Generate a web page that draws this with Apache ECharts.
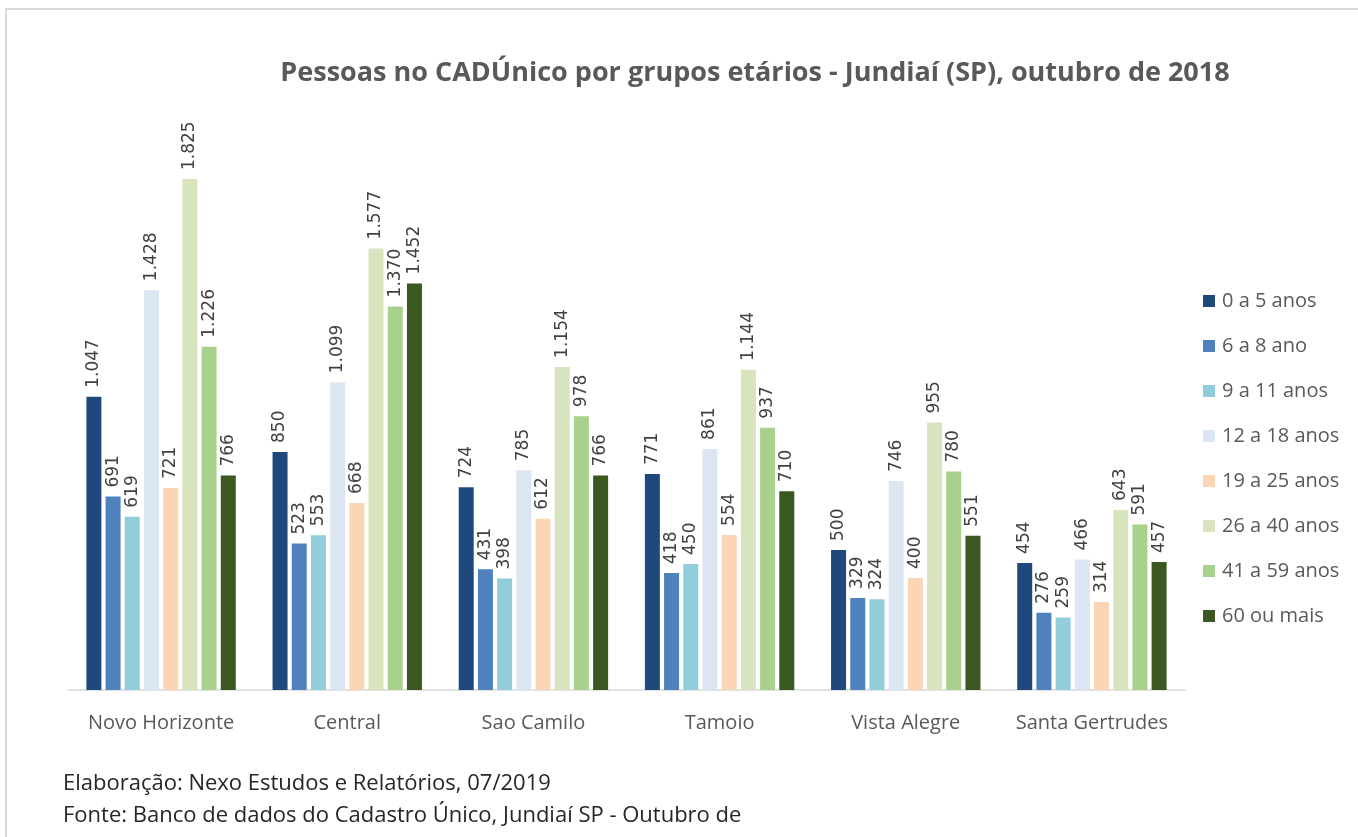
<!DOCTYPE html>
<html>
<head>
<meta charset="utf-8">
<script src="https://cdn.jsdelivr.net/npm/echarts@6/dist/echarts.min.js"></script>
<style>
  html, body { margin: 0; padding: 0; background: #fff; }
  #chart { width: 1358px; height: 837px; }
</style>
</head>
<body>
<div id="chart"></div>
<script>
const bairros = ['Novo Horizonte', 'Central', 'Sao Camilo', 'Tamoio', 'Vista Alegre', 'Santa Gertrudes']
const grupos = ['0 a 5 anos', '6 a 8 ano', '9 a 11 anos', '12 a 18 anos', '19 a 25 anos', '26 a 40 anos', '41 a 59 anos', '60 ou mais']
const cores = ['#1F497D', '#4F81BD', '#92CDDC', '#DCE6F2', '#FCD5B5', '#D7E4BD', '#A9D18E', '#3B5820']

const idade0a5 = [1047, 850, 724, 771, 500, 454]
const idade6a8 = [691, 523, 431, 418, 329, 276]
const idade9a11 = [619, 553, 398, 450, 324, 259]
const idade12a18 = [1428, 1099, 785, 861, 746, 466]
const idade19a25 = [721, 668, 612, 554, 400, 314]
const idade26a40 = [1825, 1577, 1154, 1144, 955, 643]
const idade41a59 = [1226, 1370, 978, 937, 780, 591]
const idade60mais = [766, 1452, 766, 710, 551, 457]
const valores = [idade0a5, idade6a8, idade9a11, idade12a18, idade19a25, idade26a40, idade41a59, idade60mais]

const fonte = '"Open Sans", Lato, sans-serif'
const fonteNum = '"DejaVu Sans", sans-serif'
const milhar = v => String(v).replace(/\B(?=(\d{3})+(?!\d))/g, '.')

const chart = echarts.init(document.getElementById('chart'))
chart.setOption({
    animation: false,
    backgroundColor: '#fff',
    title: {
        text: 'Pessoas no CADÚnico por grupos etários - Jundiaí (SP), outubro de 2018',
        left: 750,
        top: 55,
        textAlign: 'center',
        textStyle: { fontFamily: fonte, fontWeight: 'bold', fontSize: 27, color: '#595959' }
    },
    legend: {
        orient: 'vertical',
        left: 1198,
        top: 286,
        itemWidth: 12,
        itemHeight: 12,
        itemGap: 25,
        icon: 'rect',
        data: grupos,
        textStyle: { fontFamily: fonte, fontSize: 20, color: '#595959', padding: [0, 0, 0, 2] }
    },
    grid: { left: 68, right: 173, top: 130, bottom: 147 },
    xAxis: {
        type: 'category',
        data: bairros,
        axisLine: { lineStyle: { color: '#d9d9d9', width: 1.5 } },
        axisTick: { show: false },
        axisLabel: { interval: 0, fontFamily: fonte, fontSize: 20, color: '#595959', margin: 23 }
    },
    yAxis: {
        type: 'value',
        min: 0,
        max: 2000,
        show: false
    },
    series: grupos.map((g, i) => ({
        name: g,
        type: 'bar',
        data: valores[i],
        barWidth: 15,
        barGap: '28%',
        itemStyle: { color: cores[i] },
        label: {
            show: true,
            position: 'top',
            rotate: 90,
            align: 'left',
            verticalAlign: 'middle',
            distance: 9,
            fontFamily: fonteNum,
            fontSize: 17,
            color: '#404040',
            formatter: p => milhar(p.value)
        }
    })),
    graphic: [
        {
            type: 'rect',
            shape: { x: 6, y: 9, width: 1400, height: 900 },
            style: { fill: 'none', stroke: '#d9d9d9', lineWidth: 2 },
            silent: true
        },
        {
            type: 'text',
            left: 63,
            top: 773,
            style: { text: 'Elaboração: Nexo Estudos e Relatórios, 07/2019', font: '22px ' + fonte, fill: '#262626' }
        },
        {
            type: 'text',
            left: 63,
            top: 805,
            style: { text: 'Fonte: Banco de dados do Cadastro Único, Jundiaí SP - Outubro de', font: '22px ' + fonte, fill: '#262626' }
        }
    ]
})
</script>
</body>
</html>
